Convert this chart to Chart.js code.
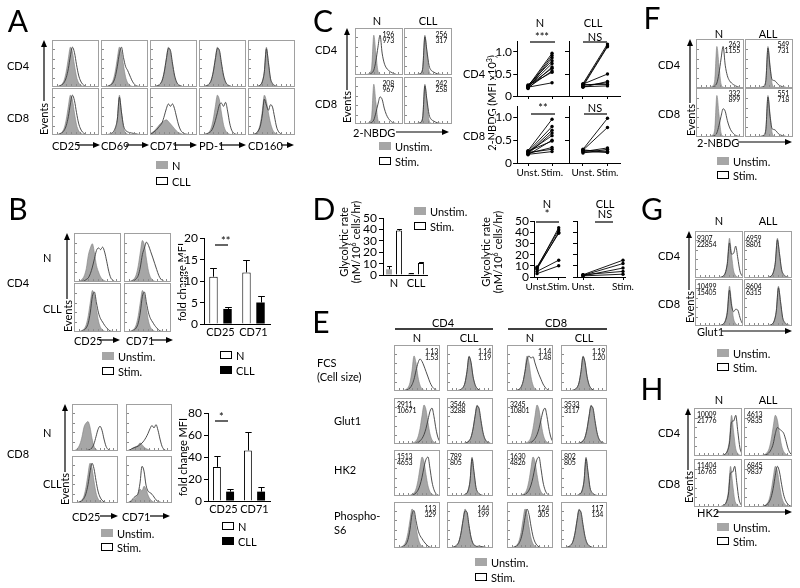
<!DOCTYPE html>
<html>
<head>
<meta charset="utf-8">
<script src="https://cdn.jsdelivr.net/npm/chart.js@4.4.1/dist/chart.umd.min.js"></script>
<style>
body { margin: 0; background: #fff; }
#fig { position: relative; width: 800px; height: 588px; overflow: hidden; font-family: Lato, "Noto Sans", sans-serif; color: #000; background: #fff; }
#fig canvas { position: absolute; }
.t { position: absolute; white-space: nowrap; line-height: 1; font-size: 11px; z-index: 6; }
.t sup { font-size: 7px; vertical-align: 4px; line-height: 0; }
.tk { z-index: 10; color: #000; outline: 1px solid #fff; }
.sw { position: absolute; box-sizing: border-box; width: 12px; height: 8px; }
</style>
</head>
<body>
<div id="fig"><canvas id="ov" width="800" height="588" style="left:0;top:0;z-index:5"></canvas></div>
<script>
// ---- histogram shapes (event counts per bin, 24 bins) ----
var BINS = [0,1,2,3,4,5,6,7,8,9,10,11,12,13,14,15,16,17,18,19,20,21,22,23];
var gMed9 = [0,0,1,2,4,8,18,40,72,100,88,55,26,11,5,2,1,0,0,0,0,0,0,0];
var oMed10 = [0,0,0,1,3,6,12,24,46,78,100,86,56,30,15,7,3,1,0,0,0,0,0,0];
var oShoulder = [0,0,0,1,3,6,12,26,52,84,100,74,52,42,30,18,9,4,2,1,0,0,0,0];
var oSame9 = [0,0,1,2,4,8,17,38,70,97,92,60,30,13,6,3,1,0,0,0,0,0,0,0];
var gNar9 = [0,0,0,0,1,2,5,14,40,100,58,18,6,2,1,0,0,0,0,0,0,0,0,0];
var oNar9 = [0,0,0,0,1,2,5,13,38,96,62,22,9,4,2,1,0,0,0,0,0,0,0,0];
var oNarTail = [0,0,0,1,2,4,8,18,40,95,58,24,12,8,6,5,4,3,2,1,1,0,0,0];
var gLow = [3,6,10,16,22,28,32,36,38,34,28,22,16,10,6,4,2,1,1,0,0,0,0,0];
var oBroad = [2,4,8,12,18,24,32,48,66,78,72,78,66,45,25,12,6,3,2,1,0,0,0,0];
var oDouble = [0,0,1,2,3,6,10,20,36,56,76,80,72,82,60,30,12,5,2,1,0,0,0,0];
var gMed8 = [0,0,1,2,5,12,28,60,100,85,55,30,14,6,3,1,0,0,0,0,0,0,0,0];
var oDouble8 = [0,0,1,2,4,10,22,50,90,75,62,76,70,45,20,8,3,1,0,0,0,0,0,0];
var gRag8 = [0,0,1,3,7,15,32,64,82,92,70,40,24,12,6,3,1,0,0,0,0,0,0,0];
var oPlateau = [0,0,0,1,2,3,6,10,20,36,56,76,82,78,84,72,50,26,10,4,1,0,0,0];
var oRTail = [0,0,0,1,2,4,8,16,36,66,82,96,88,74,60,45,30,16,7,3,1,0,0,0];
var oTail9 = [0,0,0,1,2,5,10,22,48,86,96,70,46,32,24,16,10,5,2,1,0,0,0,0];
var gLeft7 = [0,1,3,8,18,36,60,70,74,60,32,12,4,1,0,0,0,0,0,0,0,0,0,0];
var oSep14 = [0,0,0,0,0,0,0,1,2,4,8,18,36,54,62,52,30,12,4,1,0,0,0,0];
var gTiny = [0,1,3,6,9,11,14,20,16,10,6,4,2,1,0,0,0,0,0,0,0,0,0,0];
var oBroadR = [0,1,3,6,8,10,12,16,20,26,34,44,56,64,58,66,52,30,12,4,1,0,0,0];
var gBump = [0,1,3,6,10,14,22,35,30,42,35,20,10,5,2,1,0,0,0,0,0,0,0,0];
var oTall8 = [0,1,3,8,14,18,24,50,92,80,45,30,26,22,15,8,4,2,1,0,0,0,0,0];
var gSpike = [0,0,0,0,0,1,2,5,20,100,55,10,2,1,0,0,0,0,0,0,0,0,0,0];
var oSpikeR = [0,0,0,0,0,0,1,2,5,12,35,70,100,55,30,18,12,8,5,3,1,0,0,0];
var oSpikeR2 = [0,0,0,0,0,0,1,2,4,10,28,50,68,62,40,24,14,8,4,2,1,0,0,0];
var oSpikeSame = [0,0,0,0,0,1,2,4,18,96,60,24,12,8,5,3,2,1,0,0,0,0,0,0];
var oSpikeBump = [0,0,0,0,0,1,2,4,18,96,50,20,18,14,8,5,3,2,1,0,0,0,0,0];
var gF = [0,0,0,0,1,2,4,9,22,52,90,72,36,15,6,2,1,0,0,0,0,0,0,0];
var oF = [0,0,0,0,1,1,2,4,8,16,30,52,72,82,76,64,50,36,22,12,6,2,1,0];
var oF8 = [0,0,0,0,1,2,4,10,24,50,80,90,84,88,72,56,42,30,18,10,4,1,0,0];
var oFsame = [0,0,0,0,1,2,4,9,21,50,88,74,38,17,7,3,1,0,0,0,0,0,0,0];
var oR12 = [0,0,0,0,1,2,4,8,14,24,40,62,84,92,70,38,16,6,2,1,0,0,0,0];
var oPk12 = [0,0,0,1,2,4,8,15,28,48,74,94,100,70,36,16,6,2,1,0,0,0,0,0];
var oBumps = [0,0,1,2,4,8,17,38,70,95,92,58,28,12,6,4,5,4,3,2,1,0,0,0];
var oDblG = [0,0,0,0,1,2,5,12,36,88,60,62,80,50,18,6,2,1,0,0,0,0,0,0];
var oG8 = [0,0,0,0,1,2,5,12,34,90,52,36,42,40,22,8,3,1,0,0,0,0,0,0];
var oHK = [0,0,0,0,1,2,5,12,32,84,86,100,60,20,6,2,1,0,0,0,0,0,0,0];
var oBroadR2 = [0,0,0,1,2,4,8,16,30,55,70,66,62,56,40,20,8,3,1,0,0,0,0,0];

// ---- labels and axis ticks ----
var A_MARKERS = ['CD25', 'CD69', 'CD71', 'PD-1', 'CD160'];
var B_CATS = ['CD25', 'CD71'];
var D_CATS = ['N', 'CLL'];
var PAIR_X = ['Unst.', 'Stim.'];
var B4_TICKS = [0, 5, 10, 15, 20];
var B8_TICKS = [0, 20, 40, 60, 80];
var C_TICKS = [0, 0.5, 1.0];
var D_TICKS = [0, 10, 20, 30, 40, 50];

// ---- B: fold change MFI (mean, upper error) ----
var B4_N = [11, 12], B4_N_ERR = [13, 15];
var B4_CLL = [3.5, 5], B4_CLL_ERR = [4, 6.5];
var B8_N = [31, 46], B8_N_ERR = [40.5, 63];
var B8_CLL = [8.5, 8.5], B8_CLL_ERR = [11, 12.5];

// ---- C: 2-NBDG MFI x10^3, paired ----
var C_N4_UNST = [0.22, 0.20, 0.18, 0.25, 0.21, 0.17, 0.23, 0.19, 0.24, 0.20];
var C_N4_STIM = [0.97, 0.92, 0.87, 0.80, 0.74, 0.66, 0.63, 0.57, 0.54, 0.30];
var C_CLL4_UNST = [0.28, 0.25, 0.22, 0.27, 0.20, 0.24, 0.26, 0.21];
var C_CLL4_STIM = [1.18, 1.14, 1.12, 0.50, 0.33, 0.30, 0.26, 0.23];
var C_N8_UNST = [0.27, 0.25, 0.22, 0.20, 0.24, 0.18, 0.26, 0.21, 0.23, 0.19];
var C_N8_STIM = [0.96, 0.80, 0.72, 0.66, 0.60, 0.50, 0.48, 0.34, 0.30, 0.25];
var C_CLL8_UNST = [0.30, 0.28, 0.25, 0.22, 0.27, 0.24, 0.29];
var C_CLL8_STIM = [0.98, 0.78, 0.33, 0.30, 0.26, 0.24, 0.23];

// ---- D: glycolytic rate ----
var D_UNSTIM = [5, 1.5], D_UNSTIM_ERR = [8, 2];
var D_STIM = [39, 10.5], D_STIM_ERR = [40, 11];
var D_N_UNST = [8, 9, 7, 8, 5, 3];
var D_N_STIM = [44, 42, 40, 39, 15, 10];
var D_CLL_UNST = [2, 1.5, 1, 2, 1];
var D_CLL_STIM = [15, 12, 8, 5, 2.5];

// ---- histogram numbers (unstim / stim MFI) ----
var C_NUMS = [['196', '973'], ['256', '317'], ['208', '967'], ['242', '258']];
var E_NUMS = [
  [['1.13', '1.53'], ['1.14', '1.19'], ['1.14', '1.48'], ['1.19', '1.20']],
  [['2911', '10671'], ['3546', '3288'], ['3245', '10801'], ['3533', '3117']],
  [['1513', '4653'], ['789', '805'], ['1630', '4826'], ['802', '805']],
  [['113', '329'], ['144', '199'], ['124', '305'], ['117', '134']]
];
var F_NUMS = [['263', '1155'], ['549', '731'], ['332', '899'], ['551', '718']];
var G_NUMS = [['9307', '22854'], ['6959', '8801'], ['10499', '15405'], ['8604', '6315']];
var H_NUMS = [['10009', '21776'], ['4613', '9835'], ['11404', '16765'], ['6845', '9837']];

// ------------------------------------------------------------
var FONT = 'Lato, "Noto Sans", sans-serif';
Chart.defaults.font.family = FONT;
Chart.defaults.color = '#000';

var fig = document.getElementById('fig');
var ovc = document.getElementById('ov');
var ov = ovc.getContext('2d');
var pending = [];

function mk(x, y, w, h) {
  var c = document.createElement('canvas');
  c.width = w; c.height = h;
  c.style.left = x + 'px'; c.style.top = y + 'px';
  fig.insertBefore(c, ovc);
  return c;
}

function T(x, y, s, o) {
  o = o || {};
  var d = document.createElement('div');
  d.className = 't' + (o.cls ? ' ' + o.cls : '');
  d.innerHTML = String(s);
  d.style.left = x + 'px'; d.style.top = y + 'px';
  if (o.size) d.style.fontSize = o.size + 'px';
  if (o.ls) d.style.letterSpacing = o.ls + 'px';
  var ax = o.al === 'c' ? '-50%' : (o.al === 'r' ? '-100%' : '0');
  d.style.transform = o.rot ? 'translate(-50%,-50%) rotate(-90deg)' : 'translate(' + ax + ',-50%)';
  fig.appendChild(d);
  return d;
}

function leg(x, y, kind, label) {
  var d = document.createElement('div');
  d.className = 'sw';
  d.style.left = x + 'px'; d.style.top = y + 'px';
  if (kind === 'g') d.style.background = '#a6a6a6';
  else if (kind === 'k') d.style.background = '#000';
  else { d.style.background = '#fff'; d.style.border = '1px solid #000'; }
  fig.appendChild(d);
  T(x + 16, y + 4, label);
}

ov.strokeStyle = '#000'; ov.fillStyle = '#000'; ov.lineWidth = 1.2;
function arrowH(x1, x2, y) {
  ov.beginPath(); ov.moveTo(x1, y); ov.lineTo(x2 - 5, y); ov.stroke();
  ov.beginPath(); ov.moveTo(x2, y); ov.lineTo(x2 - 7, y - 3); ov.lineTo(x2 - 7, y + 3); ov.closePath(); ov.fill();
}
function arrowV(x, y1, y2) {
  ov.beginPath(); ov.moveTo(x, y1); ov.lineTo(x, y2 + 5); ov.stroke();
  ov.beginPath(); ov.moveTo(x, y2); ov.lineTo(x - 3, y2 + 7); ov.lineTo(x + 3, y2 + 7); ov.closePath(); ov.fill();
}
function hl(x1, x2, y, w) {
  ov.lineWidth = w || 1.2;
  ov.beginPath(); ov.moveTo(x1, y); ov.lineTo(x2, y); ov.stroke();
  ov.lineWidth = 1.2;
}

// frame + little inward ticks of a flow histogram
var boxDeco = {
  id: 'boxDeco',
  afterDraw: function (ch) {
    var a = ch.chartArea, c = ch.ctx, i;
    c.save();
    c.strokeStyle = '#a0a0a0'; c.lineWidth = 1;
    c.strokeRect(a.left + 0.5, a.top + 0.5, a.right - a.left - 1, a.bottom - a.top - 1);
    c.strokeStyle = '#8a8a8a';
    c.beginPath();
    for (i = 1; i < 10; i++) {
      var xx = Math.round(a.left + (a.right - a.left) * i / 10) + 0.5;
      c.moveTo(xx, a.bottom - 1); c.lineTo(xx, a.bottom - 3);
    }
    for (i = 1; i < 5; i++) {
      var yy = Math.round(a.top + (a.bottom - a.top) * i / 5) + 0.5;
      c.moveTo(a.left + 1, yy); c.lineTo(a.left + 3, yy);
    }
    c.stroke();
    c.restore();
  }
};

// y tick labels as page text, placed with the chart's own y scale (written out last)
function tickText(ch, x0, y0, gap, vals, fmt) {
  var ys = ch.scales.y, a = ch.chartArea;
  vals.forEach(function (v) {
    pending.push([x0 + a.left - gap, y0 + ys.getPixelForValue(v), fmt(v)]);
  });
}

function pts(arr) { return arr.map(function (v, i) { return { x: BINS[i], y: v }; }); }

function hist(x, y, w, h, pair, nums, at) {
  var win = pair[2] || [0, 23];
  var cv = mk(x, y, w, h);
  new Chart(cv, {
    type: 'line',
    data: { datasets: [
      { data: pts(pair[1]), borderColor: '#3a3a3a', borderWidth: 0.9, fill: false,
        pointRadius: 0, cubicInterpolationMode: 'monotone', order: 1 },
      { data: pts(pair[0]), borderColor: '#7d7d7d', borderWidth: 0.6, backgroundColor: '#a6a6a6',
        fill: 'origin', pointRadius: 0, cubicInterpolationMode: 'monotone', order: 2 }
    ] },
    options: {
      responsive: false, animation: false, events: [],
      layout: { padding: 0 },
      plugins: { legend: { display: false }, tooltip: { enabled: false } },
      scales: {
        x: { type: 'linear', display: false, min: win[0], max: win[1] },
        y: { display: false, min: 0, max: 118 }
      }
    },
    plugins: [boxDeco]
  });
  if (nums) {
    var right = at.pos === 'tr';
    var nx = right ? x + w - at.dx : x + at.dx;
    var o = { size: 7, al: right ? 'r' : 'l', ls: -0.2 };
    T(nx, y + at.dy + 2.5, nums[0], o);
    T(nx, y + at.dy + 8.5, nums[1], o);
  }
}

function fitW(wd) { return function (s) { s.width = wd; s.paddingTop = 0; s.paddingBottom = 0; }; }
function fitH(ht) { return function (s) { s.height = ht; s.paddingLeft = 0; s.paddingRight = 0; }; }
function fixTicks(vals) {
  return function (s) { s.ticks = vals.map(function (v) { return { value: v }; }); };
}

var errBars = {
  id: 'errBars',
  afterDatasetsDraw: function (ch) {
    var c = ch.ctx;
    c.save(); c.strokeStyle = '#000'; c.lineWidth = 1;
    ch.data.datasets.forEach(function (ds, di) {
      if (!ds.err) return;
      ch.getDatasetMeta(di).data.forEach(function (bar, i) {
        var yT = Math.round(ch.scales.y.getPixelForValue(ds.err[i])) + 0.5;
        var cx = Math.round(bar.x) + 0.5, hw = bar.width * 0.4;
        c.beginPath();
        c.moveTo(cx, bar.y); c.lineTo(cx, yT);
        c.moveTo(cx - hw, yT); c.lineTo(cx + hw, yT);
        c.stroke();
      });
    });
    c.restore();
  }
};

function barChart(l, t, r, b, cats, sets, o) {
  var m = [24, 8, 6, 18];
  var x0 = l - m[0], y0 = t - m[1];
  var cv = mk(x0, y0, r - l + m[0] + m[2], b - t + m[1] + m[3]);
  var ch = new Chart(cv, {
    type: 'bar',
    data: { labels: cats, datasets: sets.map(function (s) {
      return { data: s.v, err: s.e, backgroundColor: s.fill, borderColor: '#000', borderWidth: s.bw,
        barPercentage: o.bp, categoryPercentage: o.cp };
    }) },
    options: {
      responsive: false, animation: false, events: [],
      layout: { padding: { left: 0, top: m[1], right: m[2], bottom: 0 } },
      plugins: { legend: { display: false }, tooltip: { enabled: false } },
      scales: {
        x: { grid: { display: false, drawTicks: false }, border: { color: '#000', width: 1 },
          ticks: { font: { size: 11 }, padding: 2, autoSkip: false, maxRotation: 0 },
          afterFit: fitH(m[3]) },
        y: { min: 0, max: o.ticks[o.ticks.length - 1], afterBuildTicks: fixTicks(o.ticks),
          ticks: { display: false },
          grid: { drawOnChartArea: false, tickLength: 4, tickColor: '#000' },
          border: { color: '#000', width: 1 },
          afterFit: fitW(m[0]) }
      }
    },
    plugins: [errBars]
  });
  tickText(ch, x0, y0, 6, o.ticks, function (v) { return '' + v; });
  return ch;
}

function pairChart(l, t, r, b, unst, stim, o) {
  var m = [o.showY ? 26 : 5, 4, 16, o.showX ? 18 : 5];
  var x0 = l - m[0], y0 = t - m[1];
  var cv = mk(x0, y0, r - l + m[0] + m[2], b - t + m[1] + m[3]);
  var ds = unst.map(function (u, i) {
    return { data: [{ x: 0, y: u }, { x: 1, y: stim[i] }], borderColor: '#000', borderWidth: 0.9,
      pointRadius: 1.7, pointBackgroundColor: '#000', pointBorderWidth: 0, clip: false };
  });
  var ch = new Chart(cv, {
    type: 'line',
    data: { datasets: ds },
    options: {
      responsive: false, animation: false, events: [],
      layout: { padding: { left: 0, top: m[1], right: m[2], bottom: 0 } },
      plugins: { legend: { display: false }, tooltip: { enabled: false } },
      scales: {
        x: { type: 'linear', min: o.xr[0], max: o.xr[1],
          afterBuildTicks: function (s) { s.ticks = [{ value: 0 }, { value: 1 }]; },
          ticks: { display: o.showX, autoSkip: false, maxRotation: 0, padding: 1, font: { size: 10 },
            callback: function (v, i) { return PAIR_X[i]; } },
          grid: { drawOnChartArea: false, tickLength: 3, tickColor: '#000' },
          border: { color: '#000', width: 1 },
          afterFit: fitH(m[3]) },
        y: { min: 0, max: o.ymax, afterBuildTicks: fixTicks(o.ticks),
          ticks: { display: false },
          grid: { drawOnChartArea: false, tickLength: 4, tickColor: '#000' },
          border: { color: '#000', width: 1 },
          afterFit: fitW(m[0]) }
      }
    }
  });
  if (o.showY) tickText(ch, x0, y0, 5, o.ticks, o.fmt);
  return ch;
}

// ================= A =================
var A_X = [52, 101, 150, 199, 248], A_Y = [40, 88];
var A_HIST = [
  [[gMed9, oMed10], [gMed9, oShoulder], [gMed9, oSame9], [gMed9, oSame9], [gNar9, oNar9]],
  [[gMed9, oMed10], [gNar9, oNarTail], [gLow, oBroad], [gMed9, oDouble], [gMed8, oDouble8]]
];
A_HIST.forEach(function (row, ri) {
  row.forEach(function (p, ci) { hist(A_X[ci], A_Y[ri], 47, 47, p); });
});
T(18, 20, 'A', { size: 30, al: 'c' });
T(7, 65, 'CD4'); T(7, 117, 'CD8');
arrowV(44, 101, 40); T(43, 119, 'Events', { rot: 1 });
var A_ARR = [[77, 100], [126, 149], [174, 197], [220, 246], [281, 294]];
A_MARKERS.forEach(function (s, i) { T(A_X[i], 145, s); arrowH(A_ARR[i][0], A_ARR[i][1], 145); });
leg(156, 161, 'g', 'N'); leg(156, 177, 'o', 'CLL');

// ================= B =================
T(18, 208, 'B', { size: 30, al: 'c' });
var B4_X = [74, 124], B4_Y = [233, 283];
var B4_HIST = [[[gRag8, oPlateau], [gMed9, oRTail]], [[gMed9, oTail9], [gMed9, oTail9]]];
B4_HIST.forEach(function (row, ri) { row.forEach(function (p, ci) { hist(B4_X[ci], B4_Y[ri], 47, 49, p); }); });
T(43, 257, 'N'); T(43, 308, 'CLL'); T(7, 282, 'CD4');
arrowV(67, 299, 233); T(67, 316, 'Events', { rot: 1 });
T(74, 340, B_CATS[0]); arrowH(99, 120, 340); T(126, 340, B_CATS[1]); arrowH(152, 173, 340);
leg(102, 352, 'g', 'Unstim.'); leg(102, 367, 'o', 'Stim.');
barChart(204, 238, 270, 324, B_CATS, [
  { v: B4_N, e: B4_N_ERR, fill: '#fff', bw: 1 },
  { v: B4_CLL, e: B4_CLL_ERR, fill: '#000', bw: 0 }
], { ticks: B4_TICKS, bp: 0.6, cp: 0.85 });
T(181, 282, 'fold change MFI', { rot: 1 });
T(221, 240, '**'); hl(215, 228, 245);
leg(220, 351, 'o', 'N'); leg(220, 366, 'k', 'CLL');

var B8_X = [72, 126], B8_Y = [404, 456];
var B8_HIST = [[[gLeft7, oSep14], [gTiny, oBroadR]], [[gMed9, oMed10], [gBump, oTall8]]];
B8_HIST.forEach(function (row, ri) { row.forEach(function (p, ci) { hist(B8_X[ci], B8_Y[ri], 46, 47, p); }); });
T(43, 432, 'N'); T(43, 483, 'CLL'); T(7, 453, 'CD8');
arrowV(65, 472, 404); T(64, 489, 'Events', { rot: 1 });
T(72, 516, B_CATS[0]); arrowH(100, 118, 516); T(122, 516, B_CATS[1]); arrowH(150, 170, 516);
leg(101, 529, 'g', 'Unstim.'); leg(101, 543, 'o', 'Stim.');
barChart(208, 413, 270, 501, B_CATS, [
  { v: B8_N, e: B8_N_ERR, fill: '#fff', bw: 1 },
  { v: B8_CLL, e: B8_CLL_ERR, fill: '#000', bw: 0 }
], { ticks: B8_TICKS, bp: 0.6, cp: 0.85 });
T(182, 457, 'fold change MFI', { rot: 1 });
T(219, 416, '*'); hl(215, 228, 421);
leg(222, 522, 'o', 'N'); leg(222, 537, 'k', 'CLL');

// ================= C =================
T(323, 20, 'C', { size: 30, al: 'c' });
T(377, 20, 'N', { al: 'c' }); T(428, 20, 'CLL', { al: 'c' });
T(315, 49, 'CD4'); T(315, 103, 'CD8');
var C_X = [355, 404], C_Y = [28, 77];
var C_HIST = [[gSpike, oSpikeR], [gSpike, oSpikeSame, [-1, 22]], [gSpike, oSpikeR2], [gSpike, oSpikeSame, [-1, 22]]];
C_HIST.forEach(function (p, i) {
  var ci = i % 2, ri = Math.floor(i / 2);
  hist(C_X[ci], C_Y[ri], 48, 47, p, C_NUMS[i], { pos: 'tr', dx: ci ? 5 : 9, dy: 3 });
});
arrowV(347, 90, 28); T(346, 107, 'Events', { rot: 1 });
T(353, 132, '2-NBDG'); arrowH(396, 449, 132);
leg(379, 142, 'g', 'Unstim.'); leg(379, 157, 'o', 'Stim.');

var cfmt = function (v) { return v === 0 ? '0' : v.toFixed(1); };
var dfmt = function (v) { return '' + v; };
pairChart(517, 41, 565, 96, C_N4_UNST, C_N4_STIM, { ymax: 1.25, ticks: C_TICKS, showY: true, showX: false, xr: [-0.46, 1.54], fmt: cfmt });
pairChart(569, 41, 620, 96, C_CLL4_UNST, C_CLL4_STIM, { ymax: 1.25, ticks: C_TICKS, showY: false, showX: false, xr: [-0.57, 1.51], fmt: cfmt });
pairChart(517, 106, 565, 163, C_N8_UNST, C_N8_STIM, { ymax: 1.25, ticks: C_TICKS, showY: true, showX: true, xr: [-0.46, 1.54], fmt: cfmt });
pairChart(569, 106, 620, 163, C_CLL8_UNST, C_CLL8_STIM, { ymax: 1.25, ticks: C_TICKS, showY: false, showX: true, xr: [-0.57, 1.51], fmt: cfmt });
T(540, 22, 'N', { al: 'c' }); T(593, 22, 'CLL', { al: 'c' });
T(542, 36, '***', { al: 'c' }); T(595, 36, 'NS', { al: 'c' });
hl(530, 555, 42); hl(583, 607, 42);
T(543, 107, '**', { al: 'c' }); T(595, 107, 'NS', { al: 'c' });
hl(531, 555, 114); hl(584, 607, 114);
T(463, 73, 'CD4'); T(463, 135, 'CD8');
T(491, 103, '2-NBDG (MFI x10<sup>3</sup>)', { rot: 1 });

// ================= D =================
T(324, 208, 'D', { size: 30, al: 'c' });
barChart(383, 218, 427, 275, D_CATS, [
  { v: D_UNSTIM, e: D_UNSTIM_ERR, fill: '#a6a6a6', bw: 0 },
  { v: D_STIM, e: D_STIM_ERR, fill: '#fff', bw: 1 }
], { ticks: D_TICKS, bp: 0.6, cp: 0.9 });
T(343, 242, 'Glycolytic rate', { rot: 1 });
T(355, 242, '(nM/10<sup>6</sup> cells/hr)', { rot: 1 });
leg(414, 207, 'g', 'Unstim.'); leg(414, 222, 'o', 'Stim.');

pairChart(534, 221, 565, 277, D_N_UNST, D_N_STIM, { ymax: 50, ticks: D_TICKS, showY: true, showX: true, xr: [-0.14, 1.29], fmt: dfmt });
pairChart(577, 221, 625, 277, D_CLL_UNST, D_CLL_STIM, { ymax: 50, ticks: D_TICKS, showY: false, showX: true, xr: [-0.15, 1.05], fmt: dfmt });
T(485, 252, 'Glycolytic rate', { rot: 1 });
T(497, 252, '(nM/10<sup>6</sup> cells/hr)', { rot: 1 });
T(547, 203, 'N', { al: 'c' }); T(547, 213, '*', { al: 'c' }); hl(536, 559, 222);
T(605, 203, 'CLL', { al: 'c' }); T(605, 213, 'NS', { al: 'c' }); hl(595, 613, 222);

// ================= E =================
T(321, 321, 'E', { size: 30, al: 'c' });
T(443, 322, 'CD4', { al: 'c' }); hl(395, 493, 329, 1.4);
T(556, 322, 'CD8', { al: 'c' }); hl(508, 607, 329, 1.4);
['N', 'CLL', 'N', 'CLL'].forEach(function (s, i) { T([417, 469, 530, 584][i], 337, s, { al: 'c' }); });
var E_X = [394, 447, 507, 561], E_Y = [345, 398, 450, 502];
var E_HIST = [
  [[gF, oF], [gF, oFsame, [-1, 22]], [gF, oF8], [gF, oFsame, [-1, 22]]],
  [[gMed9, oR12, [-6, 17]], [gMed9, oSame9, [-6, 17]], [gMed9, oR12, [-6, 17]], [gMed9, oSame9, [-6, 17]]],
  [[gMed9, oPk12, [-5, 18]], [gNar9, oNar9, [-3.5, 19.5]], [gMed9, oPk12, [-4, 19]], [gNar9, oNar9, [-3.5, 19.5]]],
  [[gMed9, oTail9], [gMed9, oBumps], [gMed9, oMed10], [gMed9, oSame9]]
];
var E_AT = [{ pos: 'tr', dx: 2, dy: 3 }, { pos: 'tl', dx: 3, dy: 3 }, { pos: 'tl', dx: 3, dy: 3 }, { pos: 'tr', dx: 4, dy: 3 }];
E_HIST.forEach(function (row, ri) {
  row.forEach(function (p, ci) { hist(E_X[ci], E_Y[ri], 46, 46, p, E_NUMS[ri][ci], E_AT[ri]); });
});
T(317, 362, 'FCS'); T(317, 376, '(Cell size)');
T(334, 420, 'Glut1'); T(334, 469, 'HK2'); T(334, 515, 'Phospho-'); T(334, 529, 'S6');
leg(475, 558, 'g', 'Unstim.'); leg(475, 573, 'o', 'Stim.');

// ================= F, G, H =================
function smallPanel(letter, ly, top, cols, rows, hw, hh, sets, nums, at, xl, arrX, evY, legY) {
  T(652, ly, letter, { size: 30, al: 'c' });
  T(719, top, 'N', { al: 'c' }); T(768, top, 'ALL', { al: 'c' });
  T(658, rows[0] + hh / 2, 'CD4'); T(658, rows[1] + hh / 2, 'CD8');
  sets.forEach(function (p, i) {
    hist(cols[i % 2], rows[Math.floor(i / 2)], hw, hh, p, nums[i], at);
  });
  var bottom = rows[1] + hh;
  arrowV(cols[0] - 6, evY - 17, rows[0]);
  T(cols[0] - 6, evY, 'Events', { rot: 1 });
  T(697, bottom + 5, xl); arrowH(arrX, 792, bottom + 5);
  leg(717, legY, 'g', 'Unstim.'); leg(717, legY + 14, 'o', 'Stim.');
}
smallPanel('F', 17, 33, [696, 745], [39, 88], 48, 49,
  [[gSpike, oSpikeR, [-1, 22]], [gSpike, oSpikeBump, [-2, 21]], [gSpike, oSpikeR2, [-1, 22]], [gSpike, oSpikeBump, [-2, 21]]],
  F_NUMS, { pos: 'tr', dx: 4, dy: 2 }, '2-NBDG', 738, 120, 157);
smallPanel('G', 208, 220, [695, 744], [231, 279], 48, 47,
  [[gNar9, oDblG, [-7.5, 15.5]], [gNar9, oNar9, [-7, 16]], [gNar9, oG8, [-7.5, 15.5]], [gNar9, oNar9, [-7.5, 15.5]]],
  G_NUMS, { pos: 'tl', dx: 2, dy: 4 }, 'Glut1', 722, 307, 349);
smallPanel('H', 388, 399, [694, 744], [408, 459], 48, 48,
  [[gNar9, oHK, [-9, 14]], [gMed9, oBroadR2, [-6, 17]], [gNar9, oHK, [-8.5, 14.5]], [gMed9, oMed10, [-6, 17]]],
  H_NUMS, { pos: 'tl', dx: 3, dy: 3 }, 'HK2', 716, 487, 523);

// y tick labels last, on top of everything
pending.forEach(function (p) { T(p[0], p[1], p[2], { size: 12, al: 'r', cls: 'tk' }); });
</script>
</body>
</html>
